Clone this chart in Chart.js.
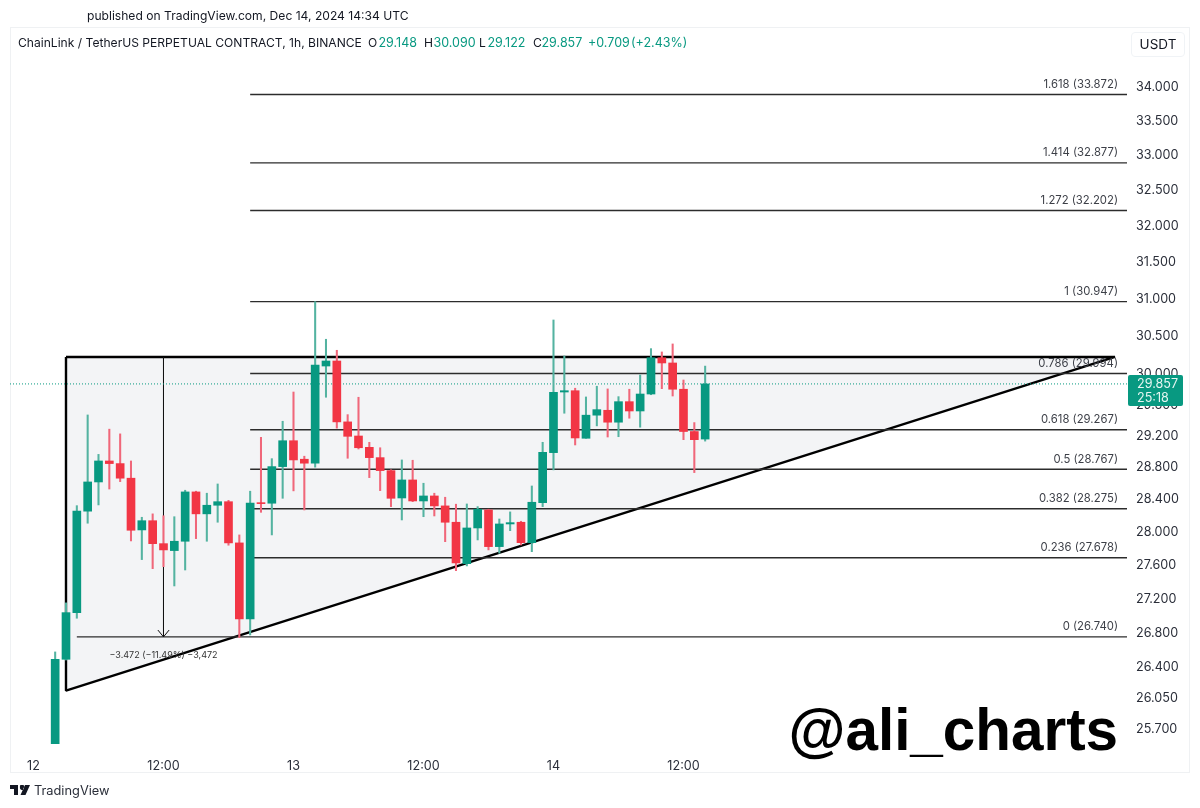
<!DOCTYPE html>
<html>
<head>
<meta charset="utf-8">
<style>
html,body{margin:0;padding:0;background:#fff;width:1200px;height:808px;overflow:hidden;font-family:Inter,"Noto Sans",sans-serif;color:#131722}
#wrap{position:relative;width:1200px;height:808px}
canvas{position:absolute;left:0;top:0}
.t{position:absolute;white-space:nowrap}
.l{top:35px;font-size:12.1px;line-height:16px}
.g{color:#089981}
</style>
<script src="https://cdn.jsdelivr.net/npm/chart.js@4"></script>
</head>
<body>
<div id="wrap">
<canvas id="c" width="1200" height="808"></canvas>
<div class="t" style="left:87px;top:8px;font-size:12.1px;line-height:16px">published on TradingView.com, Dec 14, 2024 14:34 UTC</div>
<div class="t l" style="left:18px">ChainLink / TetherUS PERPETUAL CONTRACT, 1h, BINANCE</div>
<div class="t l" style="left:368px">O</div>
<div class="t l g" style="left:378.5px;font-size:12.5px">29.148</div>
<div class="t l" style="left:424px">H</div>
<div class="t l g" style="left:433.5px;font-size:12.5px">30.090</div>
<div class="t l" style="left:479px">L</div>
<div class="t l g" style="left:487.5px;font-size:12.5px">29.122</div>
<div class="t l" style="left:533px">C</div>
<div class="t l g" style="left:541.5px;font-size:12.5px">29.857</div>
<div class="t l g" style="left:588px;font-size:12.5px">+0.709</div>
<div class="t l g" style="left:631px;font-size:12.5px">(+2.43%)</div>
<div class="t" style="left:1131px;top:32px;width:52px;height:23px;border:1px solid #f0f3f6;border-radius:4px;text-align:center;font-size:13.5px;line-height:23px">USDT</div>
<div class="t" style="left:788.5px;top:695px;font-family:'Liberation Sans',Arial,sans-serif;font-weight:700;font-size:58.4px;line-height:70px;color:#000">@ali_charts</div>
<svg class="t" style="left:10px;top:785px" width="20" height="10" viewBox="0 0 20 10"><path fill="#131722" d="M0 0h8v10H4V4H0zM15 0h5l-4.5 10h-5zM10 2.2a2.1 2.1 0 1 0 4 0a2.1 2.1 0 1 0-4 0z"/></svg>
<div class="t" style="left:34px;top:782px;font-size:12.8px;line-height:17px;color:#2a2e39">TradingView</div>
</div>
<script>
// ---- candles (hours since Dec 12 00:00) ----
const hours=[2,3,4,5,6,7,8,9,10,11,12,13,14,15,16,17,18,19,20,21,22,23,24,25,26,27,28,29,30,31,32,33,34,35,36,37,38,39,40,41,42,43,44,45,46,47,48,49,50,51,52,53,54,55,56,57,58,59,60,61,62];
const opens=[25.40,26.48,27.024,28.246,28.608,28.871,28.838,28.655,28.016,28.129,27.849,27.765,27.878,28.484,28.213,28.319,28.363,27.858,26.950,28.351,28.344,28.800,29.127,28.893,28.843,30.091,30.157,29.367,29.187,29.043,28.913,28.750,28.409,28.633,28.372,28.434,28.311,28.110,27.607,28.040,28.261,27.813,28.089,28.110,27.861,28.351,28.976,29.752,29.769,29.158,29.453,29.516,29.363,29.627,29.507,29.726,30.200,30.131,29.788,29.244,29.148];
const highs=[26.565,27.139,28.314,29.456,28.954,29.274,29.214,28.871,28.171,28.213,28.190,28.178,28.505,28.493,28.468,28.583,28.380,27.955,28.493,29.170,28.900,29.375,29.752,28.931,30.947,30.444,30.298,29.460,29.684,29.107,29.038,28.760,28.884,28.880,28.592,28.468,28.418,28.332,28.335,28.302,28.270,28.150,28.237,28.122,28.558,29.107,30.701,30.223,29.801,29.688,29.827,29.792,29.692,29.788,29.974,30.320,30.276,30.382,29.908,29.358,30.090];
const lows=[25.30,26.472,26.958,28.098,28.323,28.520,28.612,27.882,27.656,27.547,27.571,27.340,27.531,27.910,27.878,28.110,27.830,26.731,26.762,28.232,27.955,28.405,28.497,28.261,28.793,29.684,29.287,28.905,29.022,28.662,28.500,28.302,28.138,28.363,28.178,28.187,27.873,27.523,27.580,27.894,27.773,27.733,28.007,27.833,27.752,28.302,28.759,29.478,29.073,29.158,29.316,29.174,29.178,29.414,29.299,29.717,29.795,29.700,29.140,28.725,29.122];
const closes=[26.48,27.024,28.246,28.608,28.871,28.838,28.655,28.012,28.129,27.849,27.773,27.878,28.484,28.213,28.319,28.363,27.858,26.950,28.347,28.339,28.800,29.127,28.884,28.843,30.104,30.157,29.367,29.183,29.038,28.913,28.750,28.405,28.633,28.372,28.434,28.311,28.110,27.616,28.040,28.270,27.813,28.089,28.105,27.861,28.356,28.980,29.748,29.769,29.162,29.453,29.524,29.363,29.627,29.507,29.726,30.200,30.131,29.788,29.244,29.140,29.857];
// ---- axes ----
const xTickHours=[0,12,24,36,48,60];
const xTickLabels=['12','12:00','13','12:00','14','12:00'];
const yTickValues=[34,33.5,33,32.5,32,31.5,31,30.5,30,29.6,29.2,28.8,28.4,28,27.6,27.2,26.8,26.4,26.05,25.7];
// ---- fibonacci levels ----
const fibRatios=['1.618','1.414','1.272','1','0.786','0.618','0.5','0.382','0.236','0'];
const fibPrices=[33.872,32.877,32.202,30.947,29.994,29.267,28.767,28.275,27.678,26.740];
const fibStartHours=[20,20,20,20,20,20,20,20,20,4];
// ---- drawings ----
const triangleHours=[3,99.83];
const triangleTop=30.21;
const triangleBottom=26.12;
const measureHour=12;
const measureTop=30.21;
const measureBottom=26.74;
const measureLabel='\u22123.472 (\u221211.49%) \u22123,472';
const lastPrice=29.857;
const countdown='25:18';
const xMin=-2.169,xMax=100.94,yMin=25.52,yMax=34.868;

const UP='#089981',DOWN='#f23645',UPW='#54b3a1',DOWNW='#f0677a';
const isUp=hours.map((h,i)=>closes[i]>=opens[i]);
const lineBase={type:'line',pointRadius:0,pointHoverRadius:0,tension:0,fill:false,borderCapStyle:'butt'};
const datasets=[];
// 0: fill target along the top edge, 1: diagonal edge filled up to it, 2: black outline on top of the fill
datasets.push({...lineBase,label:'fillTop',order:31,borderWidth:0,borderColor:'transparent',data:triangleHours.map(x=>({x,y:triangleTop}))});
datasets.push({...lineBase,label:'fill',order:30,borderWidth:0,borderColor:'transparent',backgroundColor:'#f3f4f6',fill:0,data:[{x:triangleHours[0],y:triangleBottom},{x:triangleHours[1],y:triangleTop}]});
datasets.push({...lineBase,label:'outline',order:20,borderColor:'#000',borderWidth:2.4,borderJoinStyle:'bevel',data:[{x:triangleHours[0],y:triangleTop},{x:triangleHours[1],y:triangleTop},{x:triangleHours[0],y:triangleBottom},{x:triangleHours[0],y:triangleTop}]});
fibPrices.forEach((p,i)=>datasets.push({...lineBase,label:'fib'+fibRatios[i],order:10,borderColor:'#2c2c2c',borderWidth:1.4,data:[{x:fibStartHours[i],y:p},{x:xMax,y:p}]}));
datasets.push({...lineBase,label:'measure',order:9,borderColor:'#111',borderWidth:1,data:[{x:measureHour,y:measureTop},{x:measureHour,y:measureBottom}]});
datasets.push({...lineBase,label:'arrow',order:9,borderColor:'#111',borderWidth:1,data:[{x:measureHour-0.52,y:26.82},{x:measureHour,y:measureBottom},{x:measureHour+0.52,y:26.82}]});
datasets.push({...lineBase,label:'last',order:8,borderColor:UP,borderWidth:1,borderDash:[1,2],data:[{x:xMin,y:lastPrice},{x:xMax,y:lastPrice}]});
datasets.push({type:'bar',label:'wicks',order:2,grouped:false,barThickness:1.4,borderWidth:0,backgroundColor:isUp.map(u=>u?UPW:DOWNW),data:hours.map((x,i)=>({x,y:[lows[i],highs[i]]}))});
datasets.push({type:'bar',label:'bodies',order:1,grouped:false,barThickness:8,borderWidth:0,backgroundColor:isUp.map(u=>u?UP:DOWN),data:hours.map((x,i)=>({x,y:[Math.min(opens[i],closes[i]),Math.max(opens[i],closes[i])]}))});

const frame={id:'frame',beforeDraw(ch){const c=ch.ctx;c.save();c.strokeStyle='#eff1f3';c.lineWidth=1;c.strokeRect(10.5,27.5,1179,745);c.restore();}};
const notes={id:'notes',afterDraw(ch){
  const c=ch.ctx,X=ch.scales.x,Y=ch.scales.y;
  c.save();
  c.font='11.3px Inter';c.fillStyle='#3c3f47';c.textAlign='right';c.textBaseline='middle';
  fibPrices.forEach((p,i)=>c.fillText(fibRatios[i]+' ('+p.toFixed(3)+')',X.getPixelForValue(xMax)-9,Y.getPixelForValue(p)-10));
  c.font='9px Inter';c.fillStyle='#333';c.textAlign='center';
  c.fillText(measureLabel,X.getPixelForValue(measureHour),Y.getPixelForValue(measureBottom)+18);
  const py=Y.getPixelForValue(lastPrice);
  c.fillStyle=UP;c.beginPath();c.roundRect(1128,py-9,55,31,2);c.fill();
  c.fillStyle='#e6f6f2';c.font='12.6px Inter';c.textAlign='left';
  c.fillText(lastPrice.toFixed(3),1137,py+0.5);
  c.fillText(countdown,1137,py+14.5);
  c.restore();
}};

new Chart(document.getElementById('c'),{
  type:'bar',
  data:{datasets},
  plugins:[frame,notes],
  options:{
    responsive:false,animation:false,devicePixelRatio:1,
    layout:{padding:{left:10,top:28,right:0,bottom:0}},
    plugins:{legend:{display:false},tooltip:{enabled:false}},
    scales:{
      x:{type:'linear',min:xMin,max:xMax,offset:false,bounds:'data',
        grid:{display:false},border:{display:false},
        afterBuildTicks(s){s.ticks=xTickHours.map(value=>({value}));},
        afterFit(s){s.height=64;},
        ticks:{autoSkip:false,maxRotation:0,padding:7,font:{family:'Inter',size:12.6},color:'#2a2e39',
          callback(v){return xTickLabels[xTickHours.indexOf(v)];}}},
      y:{type:'logarithmic',position:'right',min:yMin,max:yMax,bounds:'data',
        grid:{display:false},border:{display:false},
        afterBuildTicks(s){s.ticks=yTickValues.map(value=>({value}));},
        afterFit(s){s.width=73;},
        ticks:{autoSkip:false,padding:1,labelOffset:1,font:{family:'Inter',size:12.6},color:'#2a2e39',align:'center',
          callback(v){return Number(v).toFixed(3);}}}
    }
  }
});
</script>
</body>
</html>
